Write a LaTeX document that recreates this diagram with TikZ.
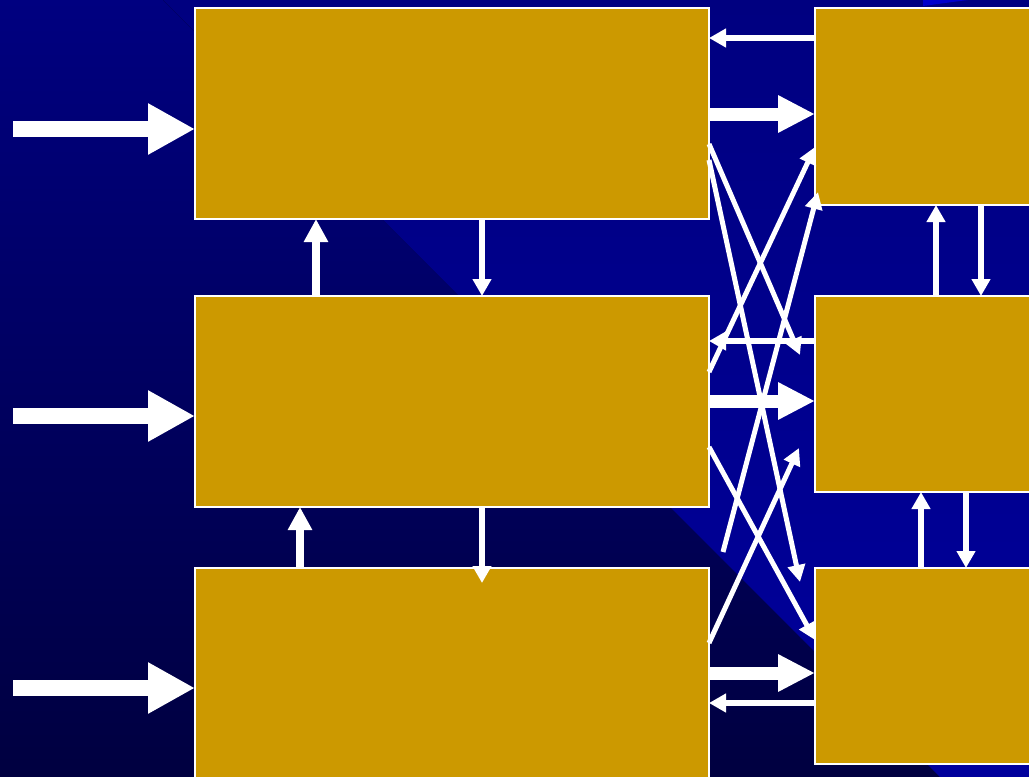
\documentclass[tikz,border=0pt]{standalone}
\usetikzlibrary{arrows.meta,calc}
\definecolor{gold}{HTML}{CC9900}
\definecolor{navy}{HTML}{000080}
\definecolor{darknavy}{HTML}{000040}
\definecolor{brightblue}{HTML}{00009C}
\definecolor{vividblue}{HTML}{0000CC}
\begin{document}
    \begin{tikzpicture}[x=1pt, y=-1pt,
        box/.style={draw=white, fill=gold, line width=1.5, inner sep=0, outer sep=0, anchor=north west},
        inarrow/.style={draw=white, line width=16, -{Triangle[length=47pt, width=48pt]}},
        fatarrow/.style={draw=white, line width=13, -{Triangle[length=37pt, width=35pt]}},
        thinarrow/.style={draw=white, line width=5.5, -{Triangle[length=17pt, width=18pt]}},
        uparrow/.style={draw=white, line width=8, -{Triangle[length=23pt, width=23pt]}},
        crossarrow/.style={draw=white, line width=5, -{Triangle[length=17pt, width=17pt]}}]
        \path[use as bounding box, clip] (0,0) rectangle (1029,777);
        \fill[top color=navy, bottom color=darknavy] (0,0) rectangle (1029,777);
        \fill[top color=navy, bottom color=brightblue] (163,0) -- (1029,0) -- (1029,777) -- (940,777) -- cycle;
        \fill[vividblue] (923,0) -- (923,6) .. controls (938,4) and (952,2) .. (968,0) -- cycle;
        \node[box, minimum width=514, minimum height=211] (l1) at (195,8) {};
        \node[box, minimum width=514, minimum height=211] (l2) at (195,296) {};
        \node[box, minimum width=514, minimum height=225] (l3) at (195,568) {};
        \node[box, minimum width=230, minimum height=197] (r1) at (815,8) {};
        \node[box, minimum width=230, minimum height=196] (r2) at (815,296) {};
        \node[box, minimum width=230, minimum height=196] (r3) at (815,568) {};
        \coordinate (in1) at (13,129);
        \coordinate (in2) at (13,416);
        \coordinate (in3) at (13,688);
        \coordinate (x1) at (800,355);
        \coordinate (x2) at (800,582);
        \coordinate (x4) at (723,552);
        \coordinate (x4e) at (818,192);
        \coordinate (x6) at (799,448);
        \draw[inarrow] (in1) -- (l1.west |- in1);
        \draw[inarrow] (in2) -- (l2.west |- in2);
        \draw[inarrow] (in3) -- (l3.west |- in3);
        \draw[uparrow] (316,0 |- l2.north) -- (316,0 |- l1.south);
        \draw[thinarrow] (482,0 |- l1.south) -- (482,0 |- l2.north);
        \draw[uparrow] (300,0 |- l3.north) -- (300,0 |- l2.south);
        \draw[thinarrow] (482,0 |- l2.south) -- ($(482,0 |- l3.north)+(0,15)$);
        \draw[thinarrow] (936,0 |- r2.north) -- (936,0 |- r1.south);
        \draw[thinarrow] (981,0 |- r1.south) -- (981,0 |- r2.north);
        \draw[thinarrow] (921,0 |- r3.north) -- (921,0 |- r2.south);
        \draw[thinarrow] (966,0 |- r2.south) -- (966,0 |- r3.north);
        \draw[thinarrow] (r1.west |- 0,38) -- (l1.east |- 0,38);
        \draw[fatarrow] (l1.east |- 0,114) -- (r1.west |- 0,114);
        \draw[thinarrow] (r2.west |- 0,341) -- (l2.east |- 0,341);
        \draw[fatarrow] (l2.east |- 0,401) -- (r2.west |- 0,401);
        \draw[fatarrow] (l3.east |- 0,673) -- (r3.west |- 0,673);
        \draw[thinarrow] (r3.west |- 0,703) -- (l3.east |- 0,703);
        \draw[crossarrow] (l1.east |- 0,144) -- (x1);
        \draw[crossarrow] (l1.east |- 0,160) -- (x2);
        \draw[crossarrow] (l2.east |- 0,372) -- (r1.west |- 0,147);
        \draw[crossarrow] (x4) -- (x4e);
        \draw[crossarrow] (l2.east |- 0,447) -- (r3.west |- 0,640);
        \draw[crossarrow] (l3.east |- 0,643) -- (x6);
    \end{tikzpicture}
\end{document}
